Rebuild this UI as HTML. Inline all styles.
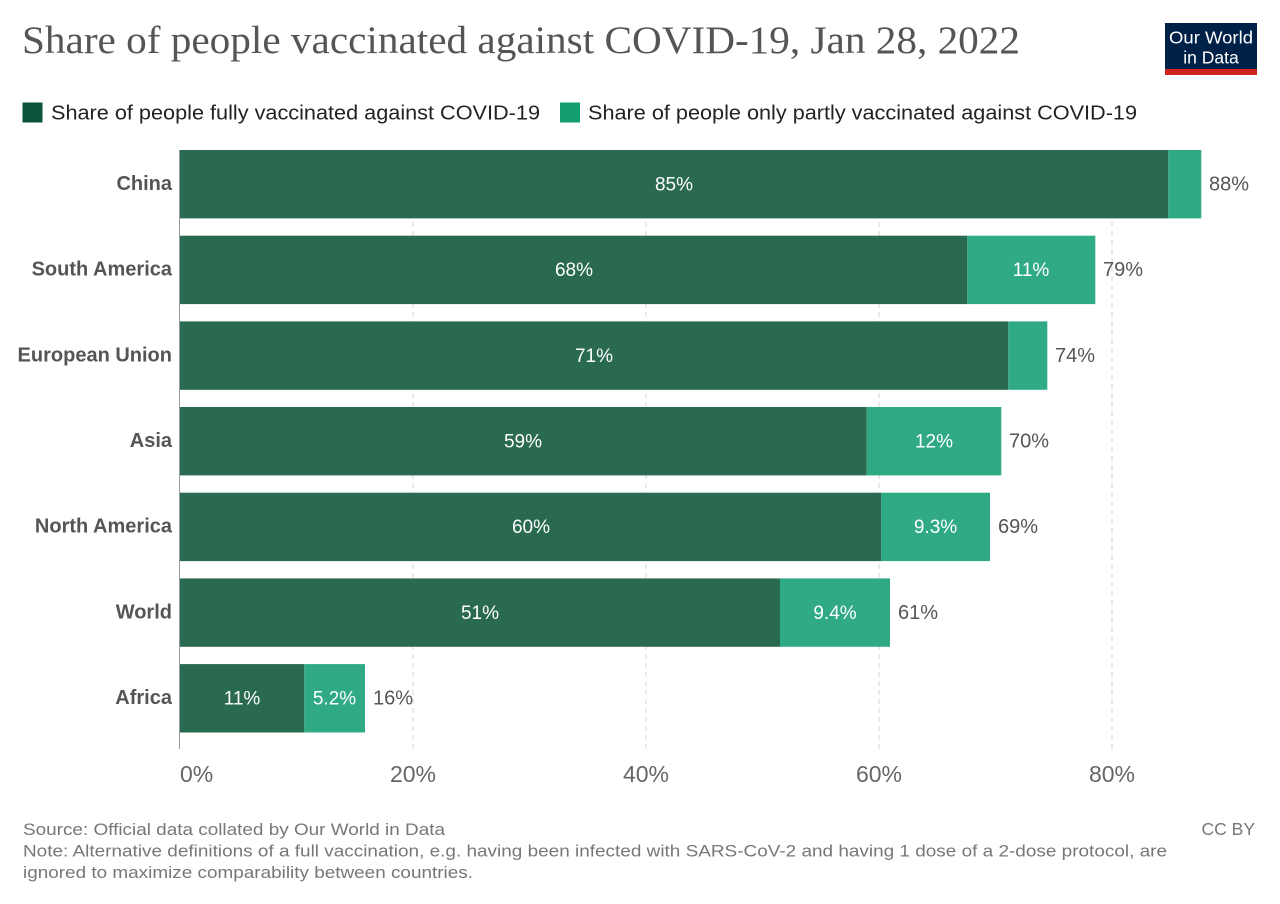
<!DOCTYPE html>
<html><head><meta charset="utf-8"><style>
html,body{margin:0;padding:0;background:#fff;}
svg{display:block;}
text{font-family:"Liberation Sans",Arial,sans-serif;}
</style></head><body>
<svg width="1280" height="904" viewBox="0 0 1280 904" xmlns="http://www.w3.org/2000/svg">
<rect width="1280" height="904" fill="#fff"/>
<!-- Title -->
<text x="22" y="53" font-size="39" fill="#555" textLength="998" lengthAdjust="spacingAndGlyphs" style="font-family:'Liberation Serif',serif">Share of people vaccinated against COVID-19, Jan 28, 2022</text>
<!-- Logo -->
<rect x="1165" y="23" width="92" height="52" fill="#002147"/>
<rect x="1165" y="69" width="92" height="6" fill="#ce261e"/>
<text x="1211" y="43.5" font-size="17.5" fill="#fff" text-anchor="middle" textLength="84" lengthAdjust="spacingAndGlyphs">Our World</text>
<text x="1211" y="63.3" font-size="17.5" fill="#fff" text-anchor="middle">in Data</text>
<!-- Legend -->
<rect x="22.5" y="102.5" width="20" height="20" fill="#0b543a"/>
<text x="51" y="119.5" font-size="20" fill="#222" textLength="489" lengthAdjust="spacingAndGlyphs">Share of people fully vaccinated against COVID-19</text>
<rect x="560" y="102.5" width="20" height="20" fill="#139e70"/>
<text x="588" y="119.5" font-size="20" fill="#222" textLength="549" lengthAdjust="spacingAndGlyphs">Share of people only partly vaccinated against COVID-19</text>
<!-- Gridlines -->
<g stroke="#d6d6d6" stroke-width="1" stroke-dasharray="5,4">
<line x1="413" y1="150" x2="413" y2="749"/>
<line x1="646" y1="150" x2="646" y2="749"/>
<line x1="879" y1="150" x2="879" y2="749"/>
<line x1="1112" y1="150" x2="1112" y2="749"/>
</g>
<line x1="179.5" y1="150" x2="179.5" y2="749" stroke="#999" stroke-width="1"/>
<!-- Bars -->
<g>
<rect x="180" y="150" width="988.3" height="68.4" fill="#2a6a51"/>
<rect x="1168.3" y="150" width="33" height="68.4" fill="#30aa85"/>
<rect x="180" y="235.7" width="787.3" height="68.4" fill="#2a6a51"/>
<rect x="967.3" y="235.7" width="128" height="68.4" fill="#30aa85"/>
<rect x="180" y="321.4" width="828.3" height="68.4" fill="#2a6a51"/>
<rect x="1008.3" y="321.4" width="39" height="68.4" fill="#30aa85"/>
<rect x="180" y="407" width="686.7" height="68.4" fill="#2a6a51"/>
<rect x="866.7" y="407" width="134.6" height="68.4" fill="#30aa85"/>
<rect x="180" y="492.7" width="701.3" height="68.4" fill="#2a6a51"/>
<rect x="881.3" y="492.7" width="108.7" height="68.4" fill="#30aa85"/>
<rect x="180" y="578.4" width="600" height="68.4" fill="#2a6a51"/>
<rect x="780" y="578.4" width="110" height="68.4" fill="#30aa85"/>
<rect x="180" y="664.1" width="124.3" height="68.4" fill="#2a6a51"/>
<rect x="304.3" y="664.1" width="60.7" height="68.4" fill="#30aa85"/>
</g>
<!-- Category labels -->
<g font-size="20" font-weight="bold" fill="#555" text-anchor="end">
<text x="172" y="190">China</text>
<text x="172" y="275.7">South America</text>
<text x="172" y="361.4">European Union</text>
<text x="172" y="447">Asia</text>
<text x="172" y="532.7">North America</text>
<text x="172" y="618.4">World</text>
<text x="172" y="704.1">Africa</text>
</g>
<!-- Inside labels -->
<g font-size="19" fill="#fff" text-anchor="middle">
<text x="674" y="190.5">85%</text>
<text x="574" y="276.2">68%</text>
<text x="1031" y="276.2">11%</text>
<text x="594" y="361.9">71%</text>
<text x="523" y="447.5">59%</text>
<text x="934" y="447.5">12%</text>
<text x="531" y="533.2">60%</text>
<text x="935.5" y="533.2">9.3%</text>
<text x="480" y="618.9">51%</text>
<text x="835" y="618.9">9.4%</text>
<text x="242" y="704.6">11%</text>
<text x="334.5" y="704.6">5.2%</text>
</g>
<!-- Outside labels -->
<g font-size="20" fill="#555">
<text x="1209" y="190.5">88%</text>
<text x="1103" y="276.2">79%</text>
<text x="1055" y="361.9">74%</text>
<text x="1009" y="447.5">70%</text>
<text x="998" y="533.2">69%</text>
<text x="898" y="618.9">61%</text>
<text x="373" y="704.6">16%</text>
</g>
<!-- Axis tick labels -->
<g font-size="23" fill="#666">
<text x="180" y="782">0%</text>
<text x="413" y="782" text-anchor="middle">20%</text>
<text x="646" y="782" text-anchor="middle">40%</text>
<text x="879" y="782" text-anchor="middle">60%</text>
<text x="1112" y="782" text-anchor="middle">80%</text>
</g>
<!-- Footer -->
<g font-size="16.5" fill="#777">
<text x="23" y="835" textLength="422" lengthAdjust="spacingAndGlyphs">Source: Official data collated by Our World in Data</text>
<text x="23" y="856.5" textLength="1144" lengthAdjust="spacingAndGlyphs">Note: Alternative definitions of a full vaccination, e.g. having been infected with SARS-CoV-2 and having 1 dose of a 2-dose protocol, are</text>
<text x="23" y="878" textLength="450" lengthAdjust="spacingAndGlyphs">ignored to maximize comparability between countries.</text>
<text x="1255" y="835" text-anchor="end" font-size="17.5">CC BY</text>
</g>
</svg>
</body></html>
